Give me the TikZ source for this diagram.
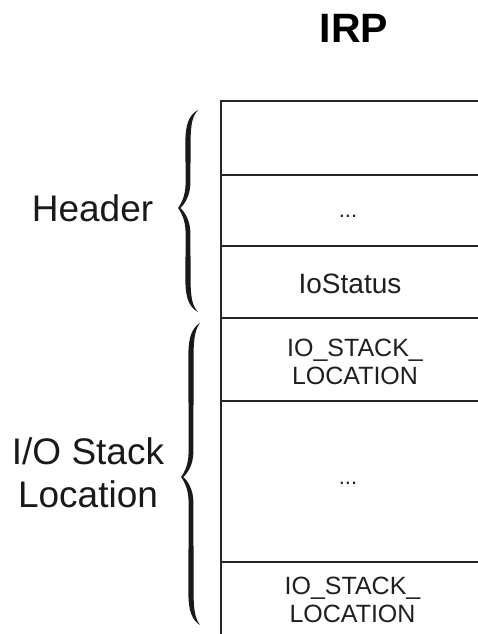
\documentclass[tikz,border=0pt]{standalone}
\usepackage{fontspec}
\setmainfont{Liberation Sans}

% filled, tapered curly brace: spine x, tip x, cusp x, top y, cusp y, bottom y
\newcommand\wavybrace[6]{%
  \fill[bracefill]
    (#2,#4) .. controls ({#1+1},{#4+5}) and ({#1-2.6},{#4+14}) .. ({#1-2.6},{#4+32})
    -- ({#1-2.4},{#5-25}) .. controls ({#1-2.4},{#5-12}) and ({#3+3},{#5-4}) .. (#3,#5)
    .. controls ({#3+3},{#5+4}) and ({#1-2.4},{#5+12}) .. ({#1-2.4},{#5+25})
    -- ({#1-2.6},{#6-32}) .. controls ({#1-2.6},{#6-14}) and ({#1+1},{#6-5}) .. (#2,#6)
    .. controls ({#1+4.5},{#6-6}) and ({#1+2.6},{#6-14}) .. ({#1+2.6},{#6-32})
    -- ({#1+2.4},{#5+25}) .. controls ({#1+2.4},{#5+12}) and ({#3+6},{#5+3}) .. ({#3+2.2},#5)
    .. controls ({#3+6},{#5-3}) and ({#1+2.4},{#5-12}) .. ({#1+2.4},{#5-25})
    -- ({#1+2.6},{#4+32}) .. controls ({#1+2.6},{#4+14}) and ({#1+4.5},{#4+6}) .. (#2,#4)
    -- cycle;
}

\tikzset{
  rowbox/.style={draw=black!85, line width=1.9pt, minimum width=266pt,
    anchor=north west, inner sep=0pt},
  bracefill/.style={fill=black!90},
  fieldtext/.style={inner sep=0pt, text=black!88, align=center},
  sidelabel/.style={inner sep=0pt, text=black!90, align=center,
    font=\fontsize{37}{43}\selectfont},
}

\begin{document}
\begin{tikzpicture}[x=1pt, y=-1pt]
  \useasboundingbox (0,0) rectangle (478,634);
  \clip (0,0) rectangle (478,634);

  % title
  \node[inner sep=0pt, anchor=base, font=\fontsize{41}{45}\selectfont\bfseries] (irp) at (354,43) {IRP};

  % IRP layout, one box per field
  \node[rowbox, minimum height=74pt] (r1) at (220,100) {};
  \node[rowbox, minimum height=71pt] (r2) at (220,174) {};
  \node[rowbox, minimum height=72pt] (r3) at (220,245) {};
  \node[rowbox, minimum height=83pt] (r4) at (220,317) {};
  \node[rowbox, minimum height=161pt] (r5) at (220,400) {};
  \node[rowbox, minimum height=80pt] (r6) at (220,561) {};

  % field contents
  \node[fieldtext, anchor=base, font=\fontsize{22}{28}\selectfont] (d1) at (348,217) {...};
  \node[fieldtext, anchor=base, font=\fontsize{28}{32}\selectfont] (io) at (350,293) {IoStatus};
  \node[fieldtext, font=\fontsize{25}{28}\selectfont] (s1) at (355,361.5) {IO\_STACK\_\\LOCATION};
  \node[fieldtext, anchor=base, font=\fontsize{22}{28}\selectfont] (d2) at (348,484) {...};
  \node[fieldtext, font=\fontsize{25}{28}\selectfont] (s2) at (352.5,599.5) {IO\_STACK\_\\LOCATION};

  % braces and their labels
  \wavybrace{188}{198}{178}{110}{208}{312}
  \wavybrace{191}{200}{181}{323}{477}{625}

  \node[sidelabel, anchor=base] (hdr) at (92.5,221) {Header};
  \node[sidelabel] (stk) at (88,473) {I/O Stack\\Location};
\end{tikzpicture}
\end{document}
